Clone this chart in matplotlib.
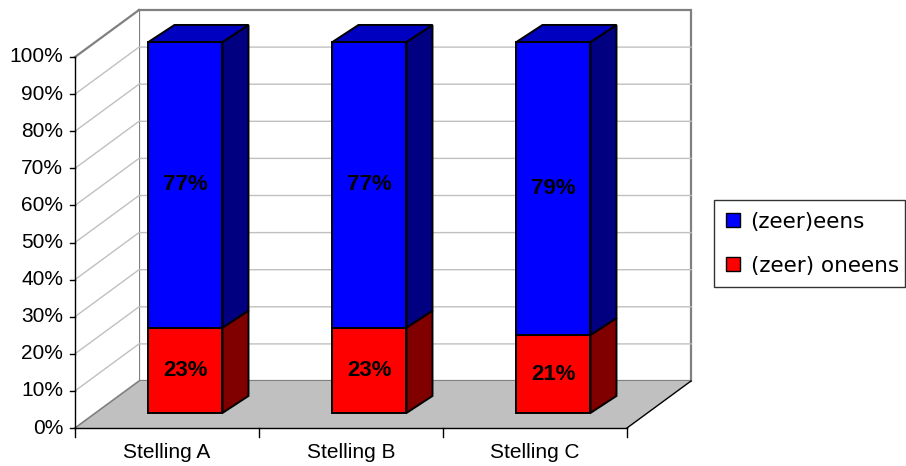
import matplotlib
matplotlib.use("Agg")
import matplotlib.pyplot as plt
from matplotlib.patches import Polygon, Patch

plt.rcParams['font.family'] = ['Liberation Sans', 'DejaVu Sans']

# data
categories = ["Stelling A", "Stelling B", "Stelling C"]
oneens = [23, 23, 21]          # (zeer) oneens
eens = [77, 77, 79]            # (zeer)eens
series_names = ["(zeer)eens", "(zeer) oneens"]
y_ticks = [0, 10, 20, 30, 40, 50, 60, 70, 80, 90, 100]

# oblique 3D frame (pixel space)
X0, Y0 = 75, 428          # front origin (0%)
CAT_W = 184               # category width
H = 371                   # height of 100%
DX, DY = 64, -47          # full depth offset
BAR_D = 0.32              # depth of bar front face
BAR_W = 74                # bar width
BAR_SHIFT = -2
BDX, BDY = 26, -17        # bar depth offset

def proj(x, v, d=0.0):
    """x in category units, v in percent, d in depth fraction"""
    return (X0 + x * CAT_W + d * DX, Y0 - v / 100 * H + d * DY)

fig = plt.figure(figsize=(9.06, 4.66), dpi=100)
ax = fig.add_axes([0, 0, 1, 1])
ax.set_xlim(0, 906)
ax.set_ylim(466, 0)
ax.axis('off')

ncat = len(categories)
GRID = '#c0c0c0'
WALL = '#808080'

# back wall
bw = [proj(0, 0, 1), proj(ncat, 0, 1), proj(ncat, 100, 1), proj(0, 100, 1)]
ax.add_patch(Polygon(bw, closed=True, facecolor='white', edgecolor=WALL, lw=1.6, zorder=1))
# left wall
lw_ = [proj(0, 0, 0), proj(0, 0, 1), proj(0, 100, 1), proj(0, 100, 0)]
ax.add_patch(Polygon(lw_, closed=True, facecolor='white', edgecolor='none', zorder=1))
ax.plot(*zip(proj(0, 100, 0), proj(0, 100, 1)), color=WALL, lw=1.6, zorder=2)

# gridlines
for t in y_ticks[1:-1]:
    p0, p1, p2 = proj(0, t, 0), proj(0, t, 1), proj(ncat, t, 1)
    ax.plot([p0[0], p1[0], p2[0]], [p0[1], p1[1], p2[1]], color=GRID, lw=1.0, zorder=2)

# floor
fl = [proj(0, 0, 0), proj(ncat, 0, 0), proj(ncat, 0, 1), proj(0, 0, 1)]
ax.add_patch(Polygon(fl, closed=True, facecolor='#c0c0c0', edgecolor='none', zorder=3))
ax.plot(*zip(proj(0, 0, 0), proj(0, 0, 1)), color=WALL, lw=1.2, zorder=3)
ax.plot(*zip(proj(ncat, 0, 0), proj(ncat, 0, 1)), color='black', lw=1.0, zorder=3)

# axes lines and ticks
ax.plot(*zip(proj(0, 0, 0), proj(0, 100, 0)), color='black', lw=1.0, zorder=4)
ax.plot(*zip(proj(0, 0, 0), proj(ncat, 0, 0)), color='black', lw=1.0, zorder=4)
for t in y_ticks:
    x, y = proj(0, t, 0)
    ax.plot([x - 5, x], [y, y], color='black', lw=1.0, zorder=4)
    ax.text(x - 12, y, f"{t}%", ha='right', va='center', fontsize=15)
for i in range(ncat + 1):
    x, y = proj(i, 0, 0)
    ax.plot([x, x], [y, y + 9], color='black', lw=1.0, zorder=4)
for i, c in enumerate(categories):
    x, y = proj(i + 0.5, 0, 0)
    ax.text(x, y + 25, c, ha='center', va='center', fontsize=15)

# bars
BLUE, BLUE_TOP, BLUE_SIDE = '#0000ff', '#0000c0', '#000080'
RED, RED_TOP, RED_SIDE = '#ff0000', '#c00000', '#800000'
EDGE = dict(edgecolor='black', lw=1.4, joinstyle='miter')

def bar_segment(i, v0, v1, front, side, top=None, label=None):
    cx, _ = proj(i + 0.5, 0, BAR_D)
    xl = cx - BAR_W / 2 + BAR_SHIFT
    xr = xl + BAR_W
    _, yb = proj(0, v0, BAR_D)
    _, yt = proj(0, v1, BAR_D)
    ax.add_patch(Polygon([(xl, yb), (xr, yb), (xr, yt), (xl, yt)], closed=True,
                         facecolor=front, zorder=5, **EDGE))
    ax.add_patch(Polygon([(xr, yb), (xr + BDX, yb + BDY), (xr + BDX, yt + BDY), (xr, yt)],
                         closed=True, facecolor=side, zorder=5, **EDGE))
    if top is not None:
        ax.add_patch(Polygon([(xl, yt), (xr, yt), (xr + BDX, yt + BDY), (xl + BDX, yt + BDY)],
                             closed=True, facecolor=top, zorder=5, **EDGE))
    if label is not None:
        ax.text((xl + xr) / 2, (yb + yt) / 2, label, ha='center', va='center',
                fontsize=16, fontweight='bold', zorder=6)

for i in range(ncat):
    r, b = oneens[i], eens[i]
    bar_segment(i, 0, r, RED, RED_SIDE, label=f"{r}%")
    bar_segment(i, r, r + b, BLUE, BLUE_SIDE, top=BLUE_TOP, label=f"{b}%")

# legend
handles = [Patch(facecolor=BLUE, edgecolor='black', lw=1.0),
           Patch(facecolor=RED, edgecolor='black', lw=1.0)]
leg = ax.legend(handles, series_names, loc='upper left',
                bbox_to_anchor=(714 / 906, 1 - 200 / 466 - 0.01, 191 / 906, 0.01),
                bbox_transform=fig.transFigure, mode='expand',
                prop={'family': ['DejaVu Sans'], 'size': 15.5},
                frameon=True, fancybox=False, handlelength=0.65,
                handleheight=0.65, handletextpad=0.5, labelspacing=1.1,
                borderpad=0.55, borderaxespad=0)
leg.get_frame().set_edgecolor('black')
leg.get_frame().set_linewidth(1.0)

fig.savefig("out.png", dpi=100)
